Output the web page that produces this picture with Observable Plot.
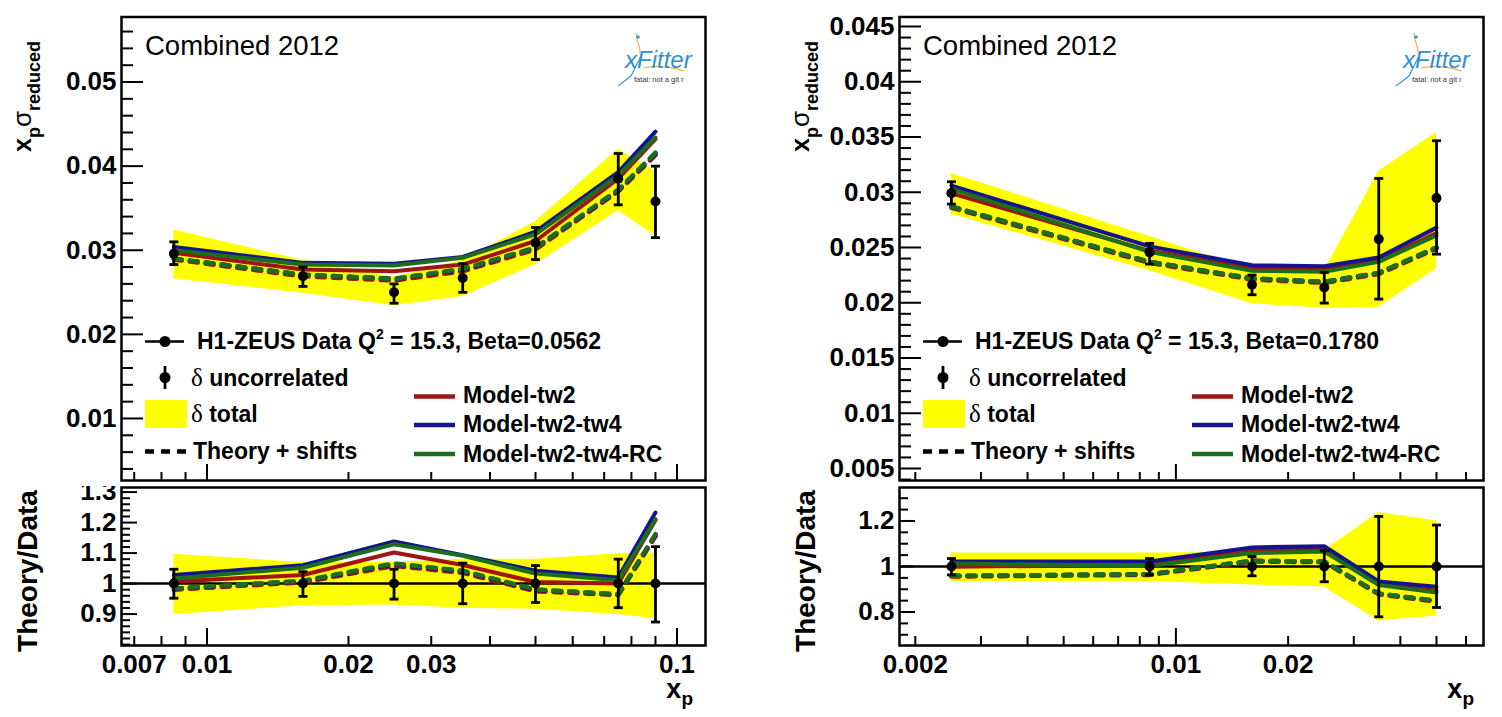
<!DOCTYPE html>
<html><head><meta charset="utf-8">
<script src="https://cdn.jsdelivr.net/npm/d3@7"></script>
<script src="https://cdn.jsdelivr.net/npm/@observablehq/plot@0.6"></script>
<style>
body{margin:0;background:#fff;}
#chart{position:relative;width:1502px;height:717px;overflow:hidden;background:#fff;}
#chart svg{position:absolute;}
</style></head><body><div id="chart"></div>
<script>
// ---------------- DATA: left panel (Beta = 0.0562) ----------------
const xL      = [0.0085, 0.016, 0.025, 0.035, 0.05, 0.075, 0.09];
const dataL   = [0.0296, 0.0269, 0.0250, 0.0267, 0.0309, 0.0385, 0.0358];
const uncLoL  = [0.0283, 0.0257, 0.0237, 0.0250, 0.0289, 0.0354, 0.0315];
const uncHiL  = [0.0310, 0.0280, 0.0260, 0.0284, 0.0327, 0.0415, 0.0400];
const totLoL  = [0.0266, 0.0249, 0.0234, 0.0245, 0.0283, 0.0347, 0.0317];
const totHiL  = [0.0324, 0.0288, 0.0268, 0.0288, 0.0334, 0.0420, 0.0394];
const tw2L    = [0.0297, 0.0277, 0.0275, 0.0283, 0.0311, 0.0385, 0.0432];
const tw4L    = [0.0304, 0.0285, 0.0284, 0.0292, 0.0322, 0.0393, 0.0441];
const rcL     = [0.0300, 0.0283, 0.0282, 0.0291, 0.0319, 0.0389, 0.0434];
const shTw2L  = [0.0289, 0.0269, 0.0264, 0.0275, 0.0301, 0.0370, 0.0413];
const shTw4L  = [0.0290, 0.0271, 0.0266, 0.0277, 0.0303, 0.0371, 0.0415];
const shRcL   = [0.0290, 0.0271, 0.0266, 0.0278, 0.0303, 0.0372, 0.0416];
// ratio (Theory/Data), left
const rUncLoL = [0.952, 0.958, 0.949, 0.934, 0.938, 0.921, 0.874];
const rUncHiL = [1.047, 1.039, 1.047, 1.067, 1.059, 1.080, 1.121];
const rTotLoL = [0.899, 0.927, 0.930, 0.919, 0.916, 0.899, 0.885];
const rTotHiL = [1.096, 1.069, 1.070, 1.080, 1.080, 1.098, 1.100];
const rTw2L   = [1.007, 1.028, 1.102, 1.061, 1.005, 1.000, 1.208];
const rTw4L   = [1.028, 1.060, 1.138, 1.093, 1.042, 1.020, 1.233];
const rRcL    = [1.017, 1.052, 1.129, 1.091, 1.033, 1.011, 1.211];
const rShTw2L = [0.980, 1.004, 1.058, 1.035, 0.975, 0.962, 1.155];
const rShTw4L = [0.983, 1.008, 1.064, 1.040, 0.979, 0.964, 1.160];
const rShRcL  = [0.984, 1.009, 1.066, 1.042, 0.981, 0.965, 1.162];

// ---------------- DATA: right panel (Beta = 0.1780) ----------------
const xR      = [0.0025, 0.0085, 0.016, 0.025, 0.035, 0.05];
const dataR   = [0.02992, 0.02456, 0.02163, 0.02139, 0.02576, 0.02947];
const uncLoR  = [0.02893, 0.02350, 0.02072, 0.01997, 0.02033, 0.02440];
const uncHiR  = [0.03095, 0.02537, 0.02251, 0.02275, 0.03125, 0.03466];
const totLoR  = [0.0280, 0.0229, 0.0199, 0.0195, 0.0196, 0.0231];
const totHiR  = [0.0317, 0.0260, 0.0230, 0.0229, 0.0319, 0.0354];
const tw2R    = [0.0299, 0.0247, 0.0232, 0.0230, 0.0238, 0.0263];
const tw4R    = [0.0306, 0.0251, 0.0234, 0.0233, 0.0241, 0.0268];
const rcR     = [0.0303, 0.0246, 0.0229, 0.0228, 0.0237, 0.0261];
const shTw2R  = [0.0286, 0.0236, 0.0221, 0.0218, 0.0226, 0.0249];
const shTw4R  = [0.0287, 0.0237, 0.0222, 0.0219, 0.0227, 0.0250];
const shRcR   = [0.0287, 0.0237, 0.0222, 0.0219, 0.0227, 0.0250];
const rUncLoR = [0.963, 0.963, 0.959, 0.933, 0.779, 0.820];
const rUncHiR = [1.035, 1.035, 1.044, 1.069, 1.220, 1.182];
const rTotLoR = [0.934, 0.934, 0.919, 0.910, 0.761, 0.783];
const rTotHiR = [1.059, 1.059, 1.062, 1.070, 1.237, 1.200];
const rTw2R   = [0.999, 1.007, 1.075, 1.076, 0.922, 0.893];
const rTw4R   = [1.022, 1.022, 1.084, 1.089, 0.934, 0.911];
const rRcR    = [1.013, 1.002, 1.059, 1.066, 0.919, 0.886];
const rShTw2R = [0.956, 0.963, 1.022, 1.019, 0.878, 0.846];
const rShTw4R = [0.959, 0.966, 1.025, 1.022, 0.881, 0.849];
const rShRcR  = [0.959, 0.966, 1.025, 1.022, 0.881, 0.849];

// ---------------- ticks / labels ----------------
const xMajL = [0.01, 0.1];
const xMinL = [0.007, 0.008, 0.009, 0.02, 0.03, 0.04, 0.05, 0.06, 0.07, 0.08, 0.09];
const xLabL = [0.007, 0.01, 0.02, 0.03, 0.1];
const xMajR = [0.01];
const xMinR = [0.002, 0.003, 0.004, 0.005, 0.006, 0.007, 0.008, 0.009, 0.02, 0.03, 0.04, 0.05, 0.06];
const xLabR = [0.002, 0.01, 0.02];
const yMajTopL = [0.01, 0.02, 0.03, 0.04, 0.05];
const yMajTopR = [0.005, 0.01, 0.015, 0.02, 0.025, 0.03, 0.035, 0.04, 0.045];
const yMajRatL = [0.9, 1, 1.1, 1.2, 1.3];
const yMajRatR = [0.8, 1, 1.2];
const betaL = "0.0562", betaR = "0.1780";

const FONT = "'Liberation Sans', Arial, Helvetica, sans-serif";
const SERIF = "'Liberation Serif', 'DejaVu Serif', serif";
const RED = "#a01414", BLUE = "#14148e", GREEN = "#1c6e1c", YELLOW = "#ffff00";
const DASH = "8,8";
const cap = {draw(ctx, size) { const r = Math.sqrt(size / Math.PI); ctx.moveTo(-r, 0); ctx.lineTo(r, 0); }};
const fmt = d => String(+(+d).toFixed(4));
const steps = (a, b, s) => d3.range(Math.round(a / s), Math.round(b / s) + 1).map(k => +(k * s).toFixed(5));

function buildPlot(cfg) {
  const {width, height, mt, mb, ml, mr, xDomain, yDomain, x, c, lo, hi, tlo, thi, solid, dashed,
         yMaj, yMinStep, yMajLen, yMinLen, xMaj, xMin, xMajLen, xMinLen, xLabels, unity} = cfg;
  const innerW = width - ml - mr, innerH = height - mt - mb;
  const inD = v => v >= yDomain[0] && v <= yDomain[1];
  const yMin = steps(yDomain[0], yDomain[1], yMinStep).filter(v => inD(v) && !yMaj.some(m => Math.abs(m - v) < 1e-9));
  const pts = x.map((xi, i) => ({x: xi, c: c[i], lo: lo[i], hi: hi[i], tlo: tlo[i], thi: thi[i]}));
  const rows = v => x.map((xi, i) => ({x: xi, y: v[i]}));
  const marks = [Plot.areaY(pts, {x: "x", y1: "tlo", y2: "thi", fill: YELLOW})];
  if (unity) marks.push(Plot.ruleY([1], {stroke: "black", strokeWidth: 2.5}));
  for (const s of solid) marks.push(Plot.line(rows(s.v), {x: "x", y: "y", stroke: s.color, strokeWidth: 4}));
  for (const s of dashed) marks.push(Plot.line(rows(s.v), {x: "x", y: "y", stroke: s.color, strokeWidth: 4.5, strokeDasharray: DASH}));
  marks.push(
    Plot.ruleX(pts, {x: "x", y1: "lo", y2: "hi", stroke: "black", strokeWidth: 2.8}),
    Plot.dot(pts, {x: "x", y: "lo", symbol: cap, r: 4.5, fill: "none", stroke: "black", strokeWidth: 2.8}),
    Plot.dot(pts, {x: "x", y: "hi", symbol: cap, r: 4.5, fill: "none", stroke: "black", strokeWidth: 2.8}),
    Plot.dot(pts, {x: "x", y: "c", r: 5, fill: "black", stroke: "none"}),
    Plot.tickY(yMaj.filter(inD), {y: d => d, insetRight: innerW - yMajLen, stroke: "black", strokeWidth: 2}),
    Plot.tickY(yMin, {y: d => d, insetRight: innerW - yMinLen, stroke: "black", strokeWidth: 2}),
    Plot.tickX(xMaj, {x: d => d, insetTop: innerH - xMajLen, stroke: "black", strokeWidth: 2}),
    Plot.tickX(xMin, {x: d => d, insetTop: innerH - xMinLen, stroke: "black", strokeWidth: 2}),
    Plot.text(yMaj.filter(inD), {y: d => d, text: fmt, frameAnchor: "left", textAnchor: "end", dx: -5,
      fontSize: 26, fontWeight: "bold", fill: "black"})
  );
  if (xLabels) marks.push(Plot.text(xLabels, {x: d => d, text: fmt, frameAnchor: "bottom", lineAnchor: "top", dy: 9,
      fontSize: 26, fontWeight: "bold", fill: "black"}));
  marks.push(Plot.frame({stroke: "black", strokeWidth: 2.5}));
  return Plot.plot({
    width, height, marginTop: mt, marginBottom: mb, marginLeft: ml, marginRight: mr,
    x: {type: "log", domain: xDomain, axis: null},
    y: {domain: yDomain, axis: null},
    style: {fontFamily: FONT, background: "transparent", color: "black"},
    marks
  });
}

function rich(g, x, y, parts, attrs = {}) {
  const t = g.append("text").attr("x", x).attr("y", y);
  for (const k in attrs) t.attr(k, attrs[k]);
  for (const p of parts) {
    const ts = t.append("tspan").text(p.t);
    if (p.fs) ts.attr("font-size", p.fs);
    if (p.dy) ts.attr("dy", p.dy);
    if (p.fw) ts.attr("font-weight", p.fw);
    if (p.ff) ts.attr("font-family", p.ff);
  }
  return t;
}

function decorateTop(svg, ox, beta) {
  const g = d3.select(svg).append("g").attr("font-family", FONT).attr("fill", "black").attr("text-anchor", "start");
  g.append("text").attr("x", 145 + ox).attr("y", 55).attr("font-size", 27.5).text("Combined 2012");
  // y title
  rich(g, 0, 0, [
    {t: "x", fs: 25}, {t: "p", fs: 18, dy: 9}, {t: "σ", fs: 26, dy: -9, fw: "normal"}, {t: "reduced", fs: 18, dy: 9}
  ], {transform: `translate(${31 + ox},152) rotate(-90)`, "font-weight": "bold"});
  // logo
  const lg = g.append("g");
  lg.append("path").attr("d", `M${636 + ox},33 C${636 + ox},42 ${641 + ox},46 ${640 + ox},54`).attr("fill", "none").attr("stroke", "#f2b04a").attr("stroke-width", 1.2);
  lg.append("path").attr("d", `M${618 + ox},86 L${631 + ox},76 L${641 + ox},56`).attr("fill", "none").attr("stroke", "#3a9ad8").attr("stroke-width", 1.2);
  lg.append("path").attr("d", `M${643 + ox},68 Q${662 + ox},64 ${684 + ox},71`).attr("fill", "none").attr("stroke", "#f2b04a").attr("stroke-width", 1.2);
  lg.append("circle").attr("cx", 638 + ox).attr("cy", 37).attr("r", 1.8).attr("fill", "#3a9ad8");
  lg.append("text").attr("x", 625 + ox).attr("y", 68).attr("font-size", 24).attr("font-style", "italic").attr("fill", "#2f8fd3").text("xFitter");
  lg.append("text").attr("x", 634 + ox).attr("y", 82).attr("font-size", 7.5).attr("fill", "#333").text("fatal: not a git r");
  // legend
  const B = {"font-weight": "bold", "font-size": 23};
  g.append("line").attr("x1", 145 + ox).attr("x2", 184 + ox).attr("y1", 341.5).attr("y2", 341.5).attr("stroke", "black").attr("stroke-width", 2.5);
  g.append("circle").attr("cx", 165 + ox).attr("cy", 341.5).attr("r", 5.5);
  rich(g, 197 + ox, 349, [{t: "H1-ZEUS Data Q"}, {t: "2", fs: 14, dy: -10}, {t: ` = 15.3, Beta=${beta}`, dy: 10}], B);
  g.append("line").attr("x1", 165 + ox).attr("x2", 165 + ox).attr("y1", 366).attr("y2", 389).attr("stroke", "black").attr("stroke-width", 2.8);
  g.append("circle").attr("cx", 165 + ox).attr("cy", 377.5).attr("r", 5.5);
  rich(g, 191 + ox, 386, [{t: "δ", ff: SERIF, fw: "normal", fs: 25}, {t: " uncorrelated"}], B);
  g.append("rect").attr("x", 145 + ox).attr("y", 400).attr("width", 42).attr("height", 28).attr("fill", YELLOW);
  rich(g, 191 + ox, 422, [{t: "δ", ff: SERIF, fw: "normal", fs: 25}, {t: " total"}], B);
  g.append("line").attr("x1", 145 + ox).attr("x2", 186 + ox).attr("y1", 451.5).attr("y2", 451.5).attr("stroke", "black").attr("stroke-width", 4.5).attr("stroke-dasharray", "9,7");
  rich(g, 193 + ox, 459, [{t: "Theory + shifts"}], B);
  const mods = [["Model-tw2", RED, 396.5, 403], ["Model-tw2-tw4", BLUE, 425, 432], ["Model-tw2-tw4-RC", GREEN, 454, 462]];
  for (const [name, col, ly, ty] of mods) {
    g.append("line").attr("x1", 414 + ox).attr("x2", 455 + ox).attr("y1", ly).attr("y2", ly).attr("stroke", col).attr("stroke-width", 4.5);
    rich(g, 463 + ox, ty, [{t: name}], B);
  }
}

function decorateBottom(svg, ox, xEnd) {
  const g = d3.select(svg).append("g").attr("font-family", FONT).attr("fill", "black").attr("font-weight", "bold");
  g.append("text").attr("transform", `translate(${37 + ox},85) rotate(-90)`).attr("text-anchor", "middle").attr("font-size", 28).text("Theory/Data");
  rich(g, xEnd, 212, [{t: "x", fs: 27}, {t: "p", fs: 19, dy: 7}], {"text-anchor": "end"});
}

const chart = document.getElementById("chart");
function place(el, left, top) { el.style.left = left + "px"; el.style.top = top + "px"; chart.appendChild(el); }

const W = 751, HT = 486, HB = 231;
const solidL = [{v: tw2L, color: RED}, {v: tw4L, color: BLUE}, {v: rcL, color: GREEN}];
const dashL  = [{v: shTw2L, color: RED}, {v: shTw4L, color: BLUE}, {v: shRcL, color: GREEN}];
const solidR = [{v: tw2R, color: RED}, {v: tw4R, color: BLUE}, {v: rcR, color: GREEN}];
const dashR  = [{v: shTw2R, color: RED}, {v: shTw4R, color: BLUE}, {v: shRcR, color: GREEN}];
const rSolidL = [{v: rTw2L, color: RED}, {v: rTw4L, color: BLUE}, {v: rRcL, color: GREEN}];
const rDashL  = [{v: rShTw2L, color: RED}, {v: rShTw4L, color: BLUE}, {v: rShRcL, color: GREEN}];
const rSolidR = [{v: rTw2R, color: RED}, {v: rTw4R, color: BLUE}, {v: rRcR, color: GREEN}];
const rDashR  = [{v: rShTw2R, color: RED}, {v: rShTw4R, color: BLUE}, {v: rShRcR, color: GREEN}];
const unityL = xL.map(() => 1), unityR = xR.map(() => 1);

const domL = [0.006577, 0.1150], domR = [0.001814, 0.06684];

const tl = buildPlot({width: W, height: HT, mt: 16.5, mb: 6, ml: 121, mr: W - 705, xDomain: domL, yDomain: [0.002626, 0.05773],
  x: xL, c: dataL, lo: uncLoL, hi: uncHiL, tlo: totLoL, thi: totHiL, solid: solidL, dashed: dashL,
  yMaj: yMajTopL, yMinStep: 0.002, yMajLen: 22, yMinLen: 12, xMaj: xMajL, xMin: xMinL, xMajLen: 16, xMinLen: 8});
decorateTop(tl, 0, betaL); place(tl, 0, 0);

const bl = buildPlot({width: W, height: HB, mt: 1, mb: HB - (645 - HT), ml: 121, mr: W - 705, xDomain: domL, yDomain: [0.797, 1.315],
  x: xL, c: unityL, lo: rUncLoL, hi: rUncHiL, tlo: rTotLoL, thi: rTotHiL, solid: rSolidL, dashed: rDashL, unity: true,
  yMaj: yMajRatL, yMinStep: 0.02, yMajLen: 16, yMinLen: 9, xMaj: xMajL, xMin: xMinL, xMajLen: 17, xMinLen: 9, xLabels: xLabL});
decorateBottom(bl, 0, 693); place(bl, 0, HT);

const tr = buildPlot({width: W, height: HT, mt: 16.5, mb: 6, ml: 899 - W, mr: W - (1483 - W), xDomain: domR, yDomain: [0.003914, 0.04586],
  x: xR, c: dataR, lo: uncLoR, hi: uncHiR, tlo: totLoR, thi: totHiR, solid: solidR, dashed: dashR,
  yMaj: yMajTopR, yMinStep: 0.001, yMajLen: 22, yMinLen: 12, xMaj: xMajR, xMin: xMinR, xMajLen: 16, xMinLen: 8});
decorateTop(tr, 899 - W - 121, betaR); place(tr, W, 0);

const br = buildPlot({width: W, height: HB, mt: 1, mb: HB - (645 - HT), ml: 899 - W, mr: W - (1483 - W), xDomain: domR, yDomain: [0.653, 1.347],
  x: xR, c: unityR, lo: rUncLoR, hi: rUncHiR, tlo: rTotLoR, thi: rTotHiR, solid: rSolidR, dashed: rDashR, unity: true,
  yMaj: yMajRatR, yMinStep: 0.05, yMajLen: 16, yMinLen: 9, xMaj: xMajR, xMin: xMinR, xMajLen: 17, xMinLen: 9, xLabels: xLabR});
decorateBottom(br, 899 - W - 121, 1474 - W); place(br, W, HT);
</script></body></html>
